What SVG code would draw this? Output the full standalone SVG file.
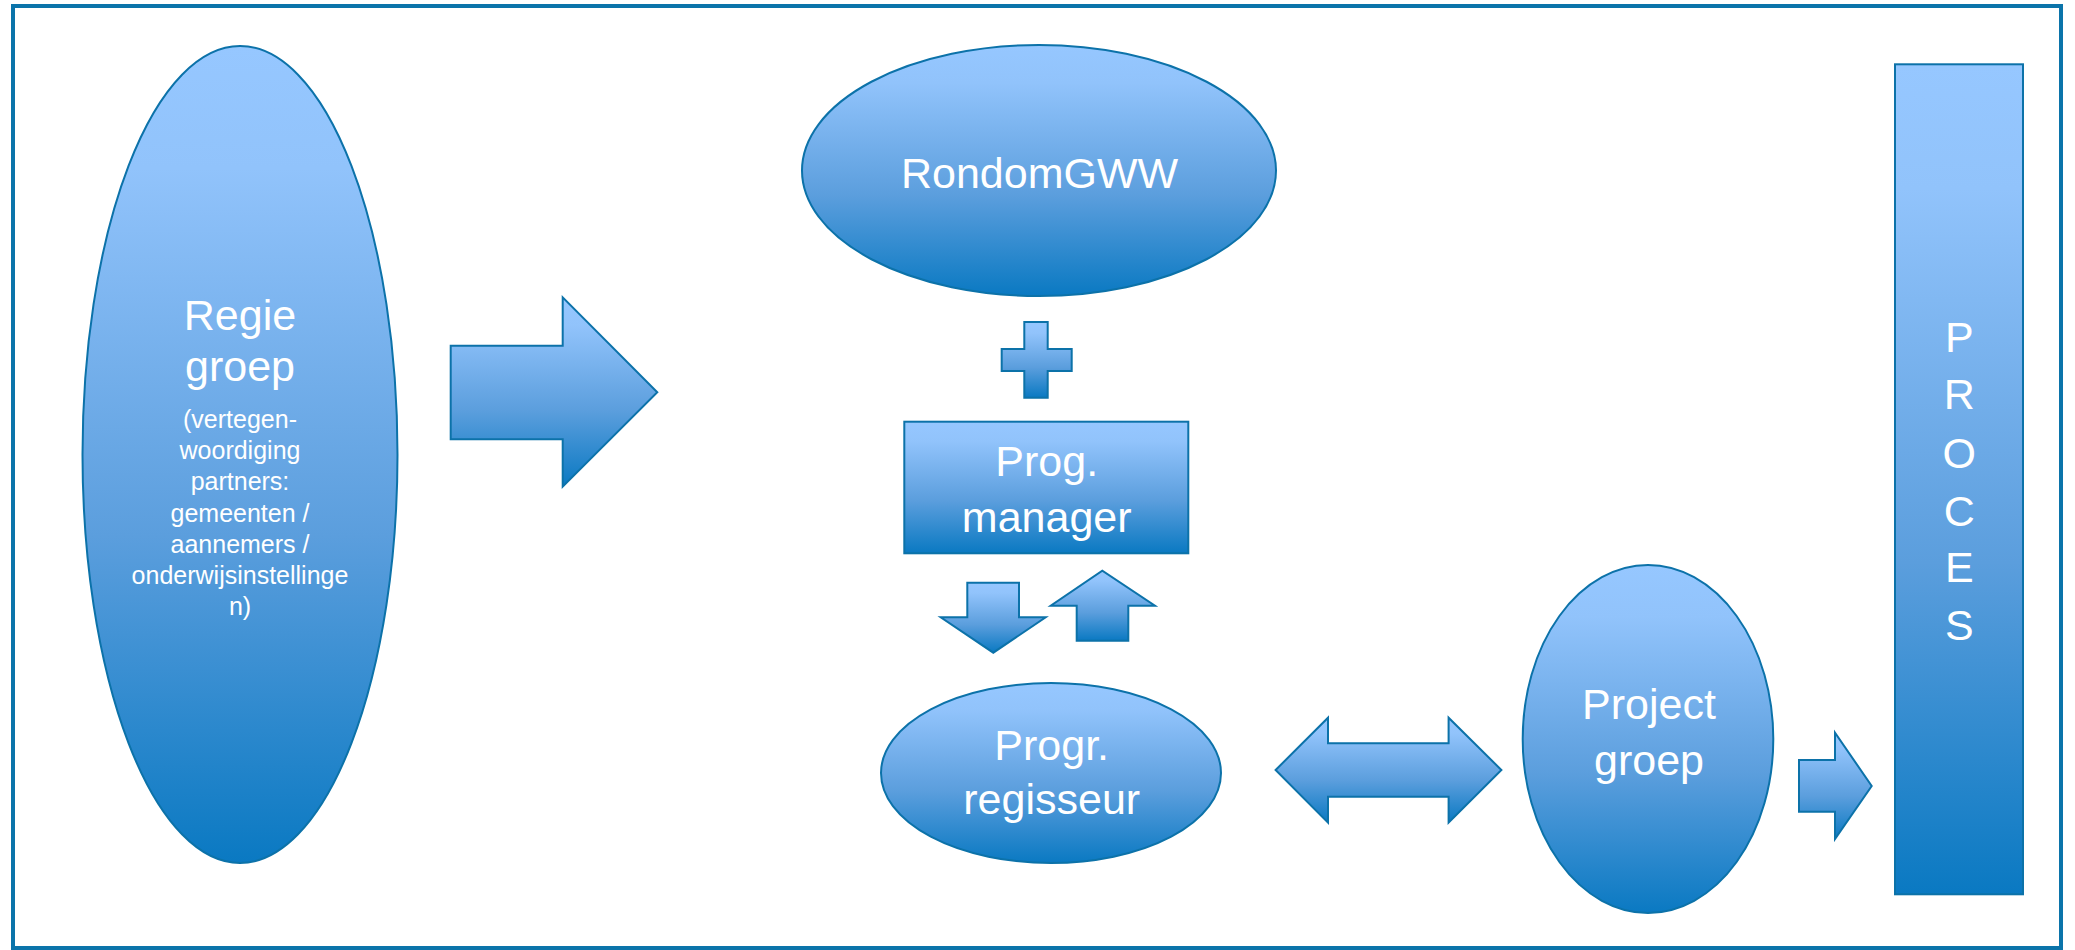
<svg xmlns="http://www.w3.org/2000/svg" width="2075" height="950" viewBox="0 0 2075 950">
<defs>
<linearGradient id="g" x1="0" y1="0" x2="0" y2="1">
<stop offset="0" stop-color="#96C7FF"/>
<stop offset="0.15" stop-color="#91C3FB"/>
<stop offset="0.6" stop-color="#5B9EDD"/>
<stop offset="1" stop-color="#0A79C2"/>
</linearGradient>
</defs>
<style>
.s{fill:url(#g);stroke:#0C72A9;stroke-width:2;stroke-linejoin:miter}
.t{fill:#FFFFFF;font-family:"Liberation Sans",Arial,sans-serif;font-size:43px;text-anchor:middle}
.sm{font-size:25px}
</style>
<rect x="0" y="0" width="2075" height="950" fill="#FFFFFF"/>
<rect x="13" y="6" width="2048" height="942" fill="none" stroke="#0B74AA" stroke-width="4"/>

<g id="regiegroep">
<ellipse class="s" cx="240" cy="454.5" rx="157.5" ry="408.5"/>
<text class="t" x="240" y="330">Regie</text>
<text class="t" x="240" y="381">groep</text>
<text class="t sm" x="240" y="428">(vertegen-</text>
<text class="t sm" x="240" y="459">woordiging</text>
<text class="t sm" x="240" y="490">partners:</text>
<text class="t sm" x="240" y="521.5">gemeenten /</text>
<text class="t sm" x="240" y="553">aannemers /</text>
<text class="t sm" x="240" y="584">onderwijsinstellinge</text>
<text class="t sm" x="240" y="615">n)</text>
</g>

<g id="rondomgww">
<ellipse class="s" cx="1039" cy="170.5" rx="237" ry="125.5"/>
<text class="t" x="1039.5" y="187.5" font-size="44">RondomGWW</text>
</g>

<g id="plus">
<path class="s" d="M1024.3,322 H1047.7 V349 H1071.7 V371 H1047.7 V397.7 H1024.3 V371 H1001.7 V349 H1024.3 Z"/>
</g>

<g id="progmanager">
<rect class="s" x="904.3" y="421.7" width="284" height="131.6"/>
<text class="t" x="1046.7" y="475.5">Prog.</text>
<text class="t" x="1046.7" y="532">manager</text>
</g>

<g id="progrregisseur">
<ellipse class="s" cx="1051" cy="773" rx="170" ry="90"/>
<text class="t" x="1051.7" y="759.5">Progr.</text>
<text class="t" x="1051.7" y="813.5">regisseur</text>
</g>

<g id="projectgroep">
<ellipse class="s" cx="1648" cy="739" rx="125.3" ry="174"/>
<text class="t" x="1649" y="718.5">Project</text>
<text class="t" x="1649" y="775">groep</text>
</g>

<g id="proces">
<rect class="s" x="1895" y="64.3" width="128" height="830" stroke-width="1.5"/>
<text class="t" x="1959.3" y="351.7">P</text>
<text class="t" x="1959.3" y="409.3">R</text>
<text class="t" x="1959.3" y="467.5">O</text>
<text class="t" x="1959.3" y="526">C</text>
<text class="t" x="1959.3" y="581.7">E</text>
<text class="t" x="1959.3" y="640">S</text>
</g>

<g id="connectors">
<path class="s" d="M450.7,345.7 H562.7 V297.3 L657.3,392.3 L562.7,486.7 V439.3 H450.7 Z"/>
<path class="s" d="M967.3,582.7 H1019 V617.3 H1045.7 L993.3,652.7 L940.7,617.3 H967.3 Z"/>
<path class="s" d="M1076.7,640.7 H1128.3 V605.7 H1155 L1102.3,570.7 L1050.7,605.7 H1076.7 Z"/>
<path class="s" d="M1275.6,770 L1328,717.7 V743.3 H1448.6 V717.7 L1501.4,770 L1448.6,822.7 V796.7 H1328 V822.7 Z"/>
<path class="s" d="M1799,760 H1835 V732.7 L1871.7,786 L1835,839 V811.7 H1799 Z"/>
</g>
</svg>
